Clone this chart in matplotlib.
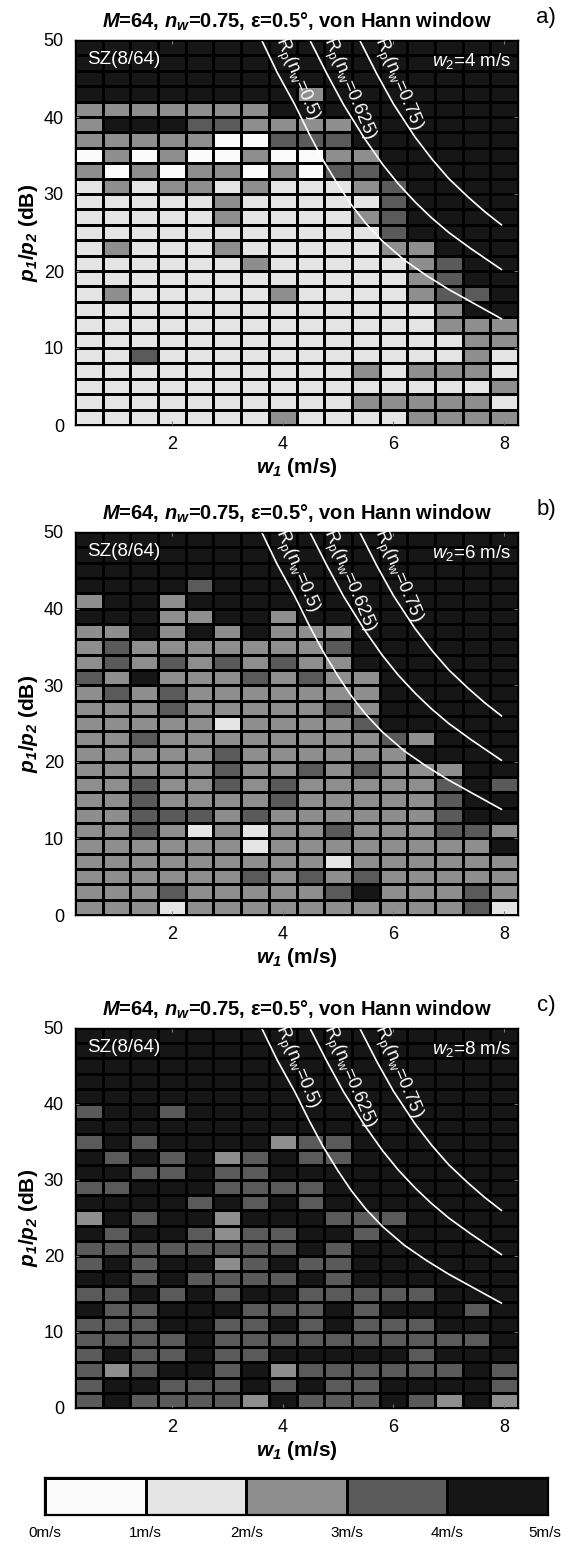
import numpy as np
import matplotlib
matplotlib.use("Agg")
import matplotlib.pyplot as plt
from matplotlib.colors import ListedColormap, BoundaryNorm

plt.rcParams['font.family'] = ['Liberation Sans', 'DejaVu Sans']
plt.rcParams['mathtext.fontset'] = 'custom'
plt.rcParams['mathtext.rm'] = 'Liberation Sans'
plt.rcParams['mathtext.it'] = 'Liberation Sans:italic'
plt.rcParams['mathtext.bf'] = 'Liberation Sans:bold'
plt.rcParams['mathtext.bfit'] = 'Liberation Sans:bold:italic'

# ---------------- data ----------------
w1_edges = [0.25, 0.75, 1.25, 1.75, 2.25, 2.75, 3.25, 3.75, 4.25,
            4.75, 5.25, 5.75, 6.25, 6.75, 7.25, 7.75, 8.25]
db_edges = [0, 2, 4, 6, 8, 10, 12, 14, 16, 18, 20, 22, 24, 26, 28,
            30, 32, 34, 36, 38, 40, 42, 44, 46, 48, 50]

# error class per cell (0: 0-1, 1: 1-2, 2: 2-3, 3: 3-4, 4: 4-5 m/s)
# rows listed from top (48-50 dB) to bottom (0-2 dB), columns w1 = 0.5 ... 8.0
err_a = [
    [4,4,4,4,4,4,4,4,4,4,4,4,4,4,4,4],
    [4,4,4,4,4,4,4,4,4,4,4,4,4,4,4,4],
    [4,4,4,4,4,4,4,4,4,4,4,4,4,4,4,4],
    [4,4,4,4,4,4,4,4,2,4,4,4,4,4,4,4],
    [2,2,2,2,2,2,2,4,4,4,4,4,4,4,4,4],
    [2,4,4,4,3,3,2,2,2,2,4,4,4,4,4,4],
    [2,2,2,2,2,0,0,3,3,3,4,4,4,4,4,4],
    [0,2,0,2,0,0,2,0,0,2,2,4,4,4,4,4],
    [2,0,2,0,2,2,0,2,0,3,3,4,4,4,4,4],
    [1,2,1,2,2,1,2,1,1,1,2,3,4,4,4,4],
    [1,1,1,1,1,2,1,1,1,1,1,3,4,4,4,4],
    [1,1,1,1,1,2,1,1,1,1,2,3,4,4,4,4],
    [1,1,1,1,1,1,1,1,1,1,1,3,4,4,4,4],
    [1,2,1,1,1,2,1,1,1,1,1,2,2,4,4,4],
    [1,1,1,1,1,1,2,1,1,1,1,1,2,3,4,4],
    [1,1,1,1,1,1,1,1,1,1,1,1,2,3,4,4],
    [1,2,1,1,1,1,1,2,1,1,1,1,2,3,3,4],
    [1,1,1,1,1,1,1,1,1,1,1,1,1,2,4,4],
    [1,1,1,1,1,1,1,1,1,1,1,1,1,2,2,2],
    [1,1,1,1,1,1,1,1,1,1,1,1,1,1,2,2],
    [1,1,3,1,1,1,1,1,1,1,1,1,1,1,2,1],
    [1,1,1,1,1,1,1,1,1,1,2,1,2,2,2,1],
    [1,1,1,1,1,1,1,1,1,1,1,1,1,1,1,2],
    [1,1,1,1,1,1,1,1,1,1,2,2,2,2,2,1],
    [1,1,1,1,1,1,1,2,1,1,1,1,2,2,2,2],
]

err_b = [
    [4,4,4,4,4,4,4,4,4,4,4,4,4,4,4,4],
    [4,4,4,4,4,4,4,4,4,4,4,4,4,4,4,4],
    [4,4,4,4,4,4,4,4,4,4,4,4,4,4,4,4],
    [4,4,4,4,3,4,4,4,4,4,4,4,4,4,4,4],
    [2,4,4,2,4,4,4,4,4,4,4,4,4,4,4,4],
    [4,4,4,2,2,4,4,2,4,4,4,4,4,4,4,4],
    [2,2,4,2,4,2,4,2,2,2,4,4,4,4,4,4],
    [2,3,2,2,2,2,2,2,2,3,4,4,4,4,4,4],
    [2,3,2,3,2,3,2,3,2,2,4,4,4,4,4,4],
    [3,2,4,2,2,2,3,2,3,2,2,4,4,4,4,4],
    [2,3,2,3,2,2,2,2,2,2,2,4,4,4,4,4],
    [2,2,2,3,2,2,2,2,2,3,2,4,4,4,4,4],
    [2,2,2,2,2,1,2,2,2,2,3,4,4,4,4,4],
    [2,2,3,2,2,2,2,2,2,2,2,3,2,4,4,4],
    [2,2,2,2,2,3,2,2,2,2,2,2,4,4,4,4],
    [2,2,2,2,2,3,2,2,3,2,3,2,2,2,4,4],
    [2,2,3,2,2,3,2,3,2,2,2,2,2,3,4,3],
    [2,2,3,2,2,2,2,3,2,2,2,2,2,3,4,4],
    [2,2,3,3,3,2,3,2,2,2,2,2,2,3,4,4],
    [2,2,3,2,1,2,1,2,2,3,2,2,2,3,3,2],
    [2,2,2,2,2,2,1,2,2,2,2,2,2,2,2,4],
    [2,2,2,2,2,2,2,2,2,1,2,2,2,2,2,2],
    [2,2,2,2,2,2,3,2,3,2,3,2,2,2,2,2],
    [2,2,2,3,2,2,2,2,2,3,4,2,2,2,3,2],
    [2,2,2,1,2,2,2,2,2,2,2,2,2,2,3,1],
]

err_c = [
    [4,4,4,4,4,4,4,4,4,4,4,4,4,4,4,4],
    [4,4,4,4,4,4,4,4,4,4,4,4,4,4,4,4],
    [4,4,4,4,4,4,4,4,4,4,4,4,4,4,4,4],
    [4,4,4,4,4,4,4,4,4,4,4,4,4,4,4,4],
    [4,4,4,4,4,4,4,4,4,4,4,4,4,4,4,4],
    [3,4,4,3,4,4,4,4,4,4,4,4,4,4,4,4],
    [4,4,4,4,4,4,4,4,4,4,4,4,4,4,4,4],
    [3,4,3,4,4,4,4,2,3,3,4,4,4,4,4,4],
    [4,3,4,3,4,2,3,4,3,3,4,4,4,4,4,4],
    [4,4,3,3,4,3,3,4,4,4,4,4,4,4,4,4],
    [3,3,4,4,4,3,3,3,3,4,4,4,4,4,4,4],
    [4,4,4,4,3,4,3,4,3,4,4,4,4,4,4,4],
    [2,4,3,4,4,2,4,4,4,3,3,3,4,4,4,4],
    [4,3,4,4,3,2,3,3,4,4,3,4,4,4,4,4],
    [3,3,3,3,3,3,3,3,4,3,4,4,4,4,4,4],
    [3,4,3,4,4,2,3,4,3,3,4,4,4,4,4,4],
    [4,4,3,4,3,3,3,3,4,3,4,4,4,4,4,4],
    [3,3,4,3,4,3,4,4,3,3,3,3,3,4,4,4],
    [4,3,3,4,4,4,3,3,3,4,3,4,4,4,3,4],
    [3,3,3,4,4,3,3,4,3,4,3,3,3,4,4,4],
    [3,3,3,3,4,3,3,3,3,3,3,3,3,3,3,4],
    [3,4,3,3,4,3,3,4,4,4,4,4,3,4,4,4],
    [3,2,3,4,4,3,4,2,3,3,3,3,3,3,4,3],
    [3,4,4,3,3,3,4,3,4,3,3,4,4,4,4,3],
    [3,4,3,3,3,3,2,4,3,3,3,4,3,2,4,2],
]

# theoretical R_p curves (w1 in m/s, ratio in dB)
rp05_w1 = [3.62, 3.90, 4.22, 4.48, 4.73, 5.00, 5.24, 5.50, 5.80, 6.20, 6.60, 7.00, 7.40, 7.95]
rp05_db = [50.0, 45.8, 41.6, 37.8, 34.4, 31.2, 28.6, 26.2, 23.9, 21.4, 19.4, 17.6, 16.0, 13.8]
rp0625_w1 = [4.49, 4.80, 5.10, 5.48, 5.80, 6.09, 6.40, 6.69, 7.00, 7.40, 7.95]
rp0625_db = [50.0, 45.6, 41.6, 37.2, 33.9, 31.3, 28.9, 26.9, 25.0, 22.9, 20.2]
rp075_w1 = [5.39, 5.70, 6.00, 6.39, 6.70, 7.00, 7.35, 7.65, 7.95]
rp075_db = [50.0, 45.6, 41.7, 37.4, 34.5, 32.0, 29.6, 27.7, 26.0]

curve_labels = ['0.5', '0.625', '0.75']
label_anchor_w1 = [3.74, 4.61, 5.52]
label_anchor_db = [49.6, 49.6, 49.6]

w2_values = [4, 6, 8]
panel_letters = ['a)', 'b)', 'c)']
xtick_vals = [2, 4, 6, 8]
ytick_vals = [0, 10, 20, 30, 40, 50]

class_colors = ['#fbfbfb', '#e4e4e4', '#8e8e8e', '#5a5a5a', '#161616']
cbar_labels = ['0m/s', '1m/s', '2m/s', '3m/s', '4m/s', '5m/s']

# ---------------- figure ----------------
W, H = 562, 1548
fig = plt.figure(figsize=(W / 100, H / 100), dpi=100)

cmap = ListedColormap(class_colors)
norm = BoundaryNorm([-0.5, 0.5, 1.5, 2.5, 3.5, 4.5], cmap.N)

panel_px = [(40, 425), (532, 915), (1028, 1408)]
left_px, right_px = 75, 518

title = (r'$\mathbfit{M}$=64, $\mathbfit{n}_{\mathbfit{w}}$=0.75, '
         'ε=0.5°, von Hann window')

curves = [(rp05_w1, rp05_db), (rp0625_w1, rp0625_db), (rp075_w1, rp075_db)]

for (top, bot), grid, w2, letter in zip(panel_px, [err_a, err_b, err_c],
                                        w2_values, panel_letters):
    ax = fig.add_axes([left_px / W, 1 - bot / H, (right_px - left_px) / W,
                       (bot - top) / H])
    Z = np.array(grid)[::-1]
    ax.pcolormesh(w1_edges, db_edges, Z, cmap=cmap, norm=norm,
                  edgecolors='black', linewidth=1.0)
    for (xs, ys), lab, lx, ly in zip(curves, curve_labels,
                                     label_anchor_w1, label_anchor_db):
        ax.plot(xs, ys, color='white', lw=1.2, solid_joinstyle='round')
        ax.text(lx, ly, r'$\mathrm{R_p(n_w}$=' + lab + ')', color='white',
                fontsize=13, rotation=-67, rotation_mode='anchor',
                ha='left', va='bottom')
    ax.set_xlim(w1_edges[0], w1_edges[-1])
    ax.set_ylim(db_edges[0], db_edges[-1])
    ax.set_xticks(xtick_vals)
    ax.set_yticks(ytick_vals)
    ax.tick_params(direction='in', length=3, labelsize=13, top=True,
                   right=True, color='#777777', pad=8)
    ax.text(0.028, 0.972, 'SZ(8/64)', transform=ax.transAxes, color='white',
            fontsize=13.5, ha='left', va='top')
    ax.text(0.985, 0.972, r'$\mathit{w}_2$=%d m/s' % w2,
            transform=ax.transAxes, color='white', fontsize=13.5,
            ha='right', va='top')
    ax.set_title(title, fontsize=14.5, fontweight='bold', pad=9)
    ax.set_xlabel(r'$\mathbfit{w}_{\mathbfit{1}}$ (m/s)', fontsize=15,
                  fontweight='bold', labelpad=2)
    ax.set_ylabel(r'$\mathbfit{p}_{\mathbfit{1}}$/$\mathbfit{p}_{\mathbfit{2}}$ (dB)',
                  fontsize=15, fontweight='bold', labelpad=3)
    for s in ax.spines.values():
        s.set_linewidth(1.0)
    fig.text(546 / W, 1 - (top - 22) / H, letter, fontsize=16,
             ha='center', va='center')

# colour bar
cax = fig.add_axes([45 / W, 1 - 1515 / H, 503 / W, 37 / H])
cax.pcolormesh([0, 1, 2, 3, 4, 5], [0, 1], [[0, 1, 2, 3, 4]], cmap=cmap,
               norm=norm, edgecolors='black', linewidth=1.0)
cax.set_xlim(0, 5)
cax.set_ylim(0, 1)
cax.set_xticks([])
cax.set_yticks([])
for s in cax.spines.values():
    s.set_linewidth(1.6)
for i, lab in enumerate(cbar_labels):
    xc = min((45 + i * 503 / 5), 545)
    fig.text(xc / W, 1 - 1533 / H, lab, fontsize=11,
             ha='center', va='center')

fig.savefig('out.png', dpi=100)
